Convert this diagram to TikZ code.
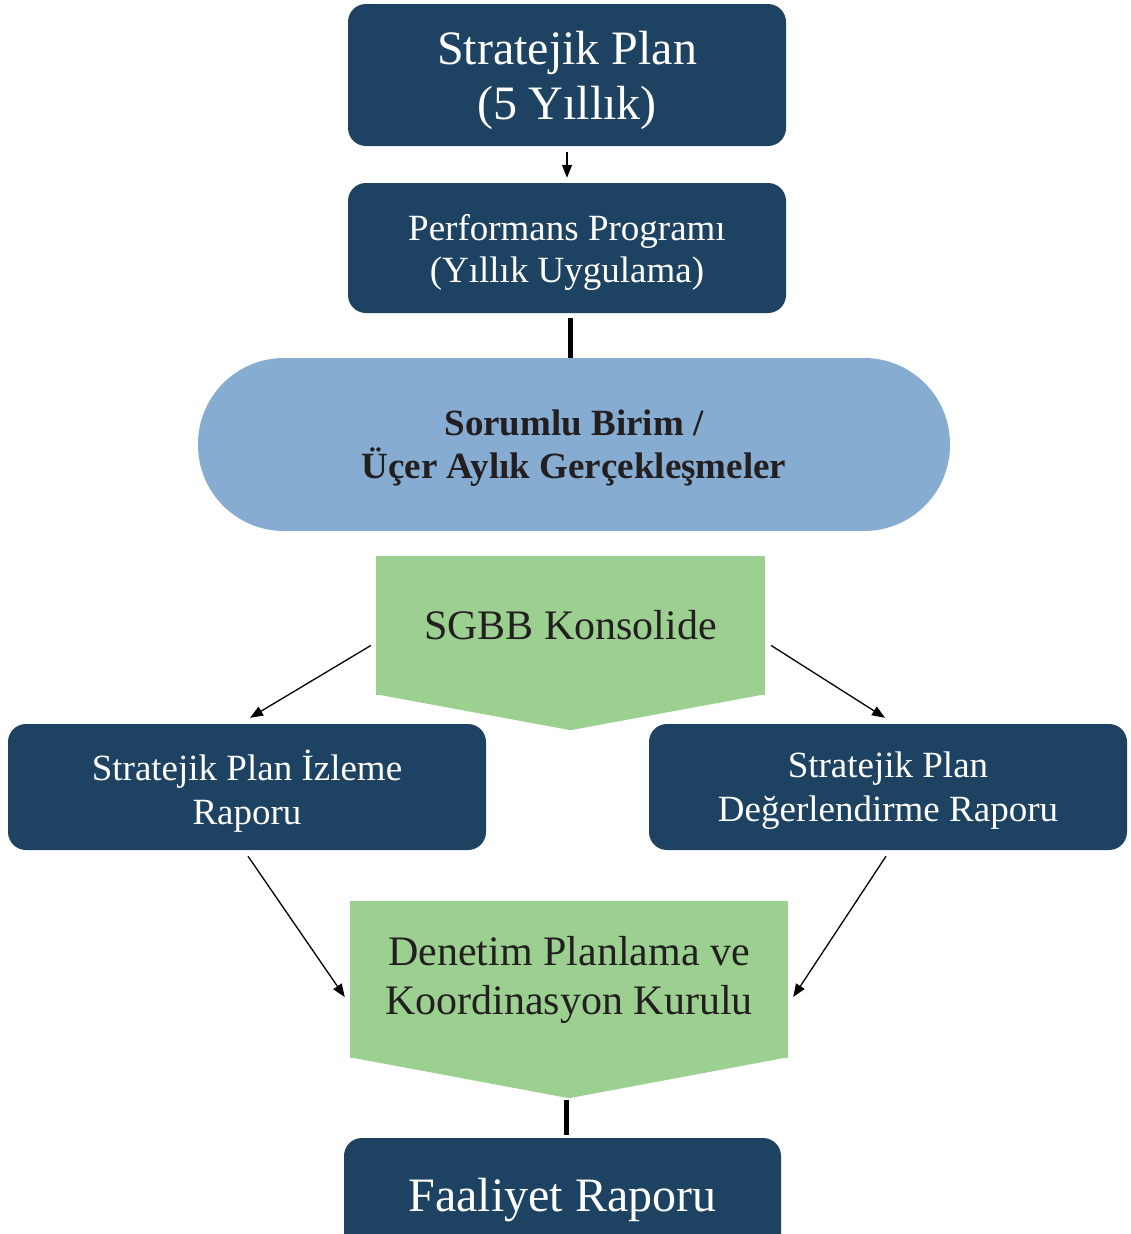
\documentclass[tikz,border=0pt]{standalone}
\usepackage{fontspec}
\setmainfont{Liberation Serif}
\usetikzlibrary{arrows.meta}

\definecolor{planblue}{RGB}{29,66,98}
\definecolor{birimblue}{RGB}{135,172,210}
\definecolor{konsgreen}{RGB}{156,208,145}
\definecolor{inkdark}{RGB}{35,31,32}

\tikzset{
  bluebox/.style={rectangle, rounded corners=18pt, fill=planblue, text=white, align=center, inner sep=0pt, text depth=0pt},
  pent/.style={rectangle, fill=konsgreen, text=inkdark, align=center, inner sep=0pt,
    append after command={\pgfextra{\let\pentnode=\tikzlastnode
      \fill[konsgreen] ([yshift=1pt]\pentnode.south west) -- ([yshift=1pt]\pentnode.south east) -- ([yshift=-#1]\pentnode.south) -- cycle;}}},
  arr/.style={draw=black, line width=1.3pt, -{Triangle[length=13pt,width=10pt]}},
  bar/.style={draw=black, line width=5pt}
}

\begin{document}
\begin{tikzpicture}[x=1pt,y=-1pt]
    \useasboundingbox (0,0) rectangle (1130,1234);

    %Rounded Rect: top plan
    \node[bluebox, minimum width=438, minimum height=142, font=\fontsize{48}{55}\selectfont] (plan) at (567,75) {Stratejik Plan\\(5 Yıllık)};
    %Rounded Rect: yearly programme
    \node[bluebox, minimum width=438, minimum height=130, font=\fontsize{37}{42}\selectfont] (prog) at (567,248) {Performans Programı\\(Yıllık Uygulama)};
    %Rounded Rect: stadium
    \node[rectangle, rounded corners=86pt, fill=birimblue, text=inkdark, align=center, inner sep=0pt, text depth=0pt, minimum width=752, minimum height=173, font=\bfseries\fontsize{37}{43}\selectfont] (birim) at (574,444.5) {Sorumlu Birim /\\Üçer Aylık Gerçekleşmeler};
    %Pentagon: consolidation
    \node[pent=35pt, minimum width=389, minimum height=139, font=\fontsize{42}{48}\selectfont] (sgbb) at (570.5,625.5) {SGBB Konsolide};
    %Rounded Rect: monitoring report
    \node[bluebox, minimum width=478, minimum height=126, font=\fontsize{37}{44}\selectfont] (izleme) at (247,787) {Stratejik Plan İzleme\\Raporu};
    %Rounded Rect: evaluation report
    \node[bluebox, minimum width=478, minimum height=126, font=\fontsize{37}{44}\selectfont] (degerl) at (888,787) {Stratejik Plan\\Değerlendirme Raporu};
    %Pentagon: board
    \node[pent=40pt, minimum width=438, minimum height=157, font=\fontsize{42}{49}\selectfont] (kurul) at (569,979.5) {Denetim Planlama ve\\Koordinasyon Kurulu};
    %Rounded Rect: activity report
    \node[bluebox, minimum width=437, minimum height=114, font=\fontsize{48}{53}\selectfont] (faal) at (562.5,1195) {Faaliyet Raporu};

    %Straight Lines
    \draw[arr, shorten <=6pt, shorten >=5pt] (plan) -- (prog);
    \draw[bar, shorten <=5pt] ([shift={(3,0)}]prog.south) -- ([shift={(-4,0)}]birim.north);
    \draw[arr] ([shift={(-5,20)}]sgbb.west) -- ([shift={(3,-6)}]izleme.north);
    \draw[arr] ([shift={(6,20)}]sgbb.east) -- ([shift={(-3,-6)}]degerl.north);
    \draw[arr] ([shift={(1,6)}]izleme.south) -- ([shift={(-5,17.5)}]kurul.west);
    \draw[arr] ([shift={(-2,6)}]degerl.south) -- ([shift={(5,17.5)}]kurul.east);
    \draw[bar] ([shift={(-3,42)}]kurul.south) -- ([shift={(3.5,-3)}]faal.north);
\end{tikzpicture}
\end{document}
